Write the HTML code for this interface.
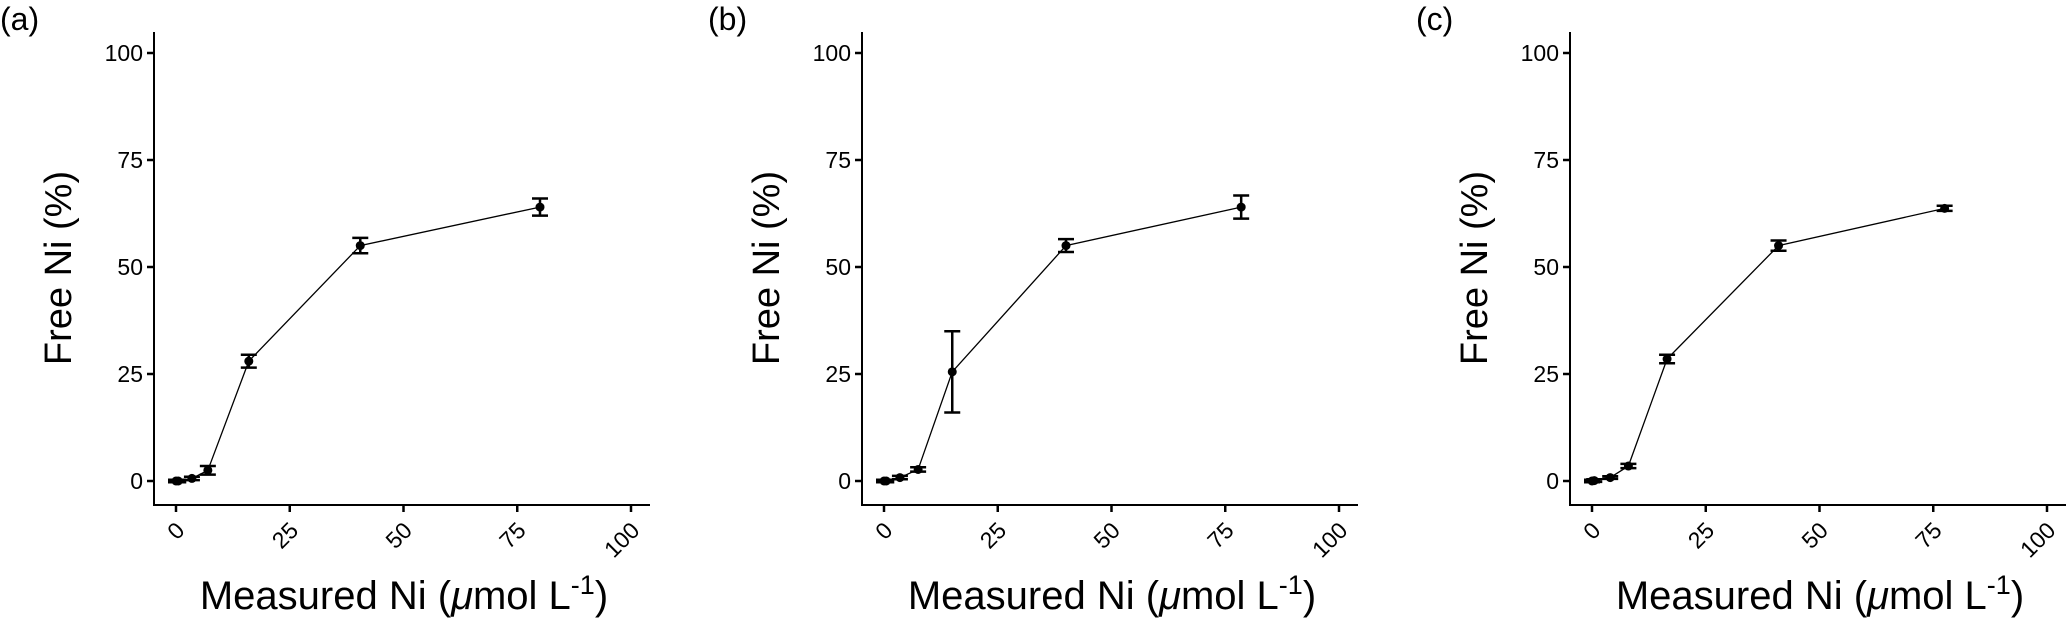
<!DOCTYPE html>
<html><head><meta charset="utf-8"><style>
html,body{margin:0;padding:0;background:#fff;}
svg{display:block;font-family:"Liberation Sans",Arial,sans-serif;}
</style></head><body>
<svg id="fig" width="2067" height="618" viewBox="0 0 2067 618" xmlns="http://www.w3.org/2000/svg"></svg>
<script>
const panelLabels = ["(a)", "(b)", "(c)"];
const xTicks = [0, 25, 50, 75, 100];
const yTicks = [0, 25, 50, 75, 100];
const xA = [0, 0.5, 3.5, 7, 16, 40.5, 80];
const yA = [0, 0, 0.6, 2.5, 28, 55, 64];
const eA = [0.3, 0.3, 0.4, 1.0, 1.5, 1.8, 2.0];
const xB = [0, 0.5, 3.5, 7.5, 15, 40, 78.5];
const yB = [0, 0, 0.8, 2.7, 25.5, 55, 64];
const eB = [0.3, 0.3, 0.4, 0.5, 9.5, 1.5, 2.7];
const xC = [0, 0.5, 4, 8, 16.5, 41, 77.5];
const yC = [0, 0.1, 0.8, 3.5, 28.5, 55, 63.7];
const eC = [0.3, 0.3, 0.3, 0.5, 1.0, 1.2, 0.6];
const xs = [xA, xB, xC], ys = [yA, yB, yC], es = [eA, eB, eC];

const NS = "http://www.w3.org/2000/svg";
const svg = document.getElementById("fig");
function mk(tag, attrs, parent) {
  const el = document.createElementNS(NS, tag);
  for (const k in attrs) el.setAttribute(k, attrs[k]);
  (parent || svg).appendChild(el);
  return el;
}
const axisXs = [154, 862, 1570];
for (let p = 0; p < 3; p++) {
  const ax = axisXs[p];
  const g = mk("g", {});
  
  
  const sx = v => ax + 22 + v * 4.55;
  const sy = v => 481 - v * 4.28;
  const lab = mk("text", {x: ax - 154, y: 30, "font-size": 32}, g);
  lab.textContent = panelLabels[p];
  
  
  const yaxis = mk("line", {x1: ax, y1: 32, x2: ax, y2: 506, stroke: "#000", "stroke-width": 2}, g);
  
  
  const xaxis = mk("line", {x1: ax - 1, y1: 505, x2: ax + 496, y2: 505, stroke: "#000", "stroke-width": 2}, g);
  
  
  yTicks.forEach(t => {
    mk("line", {x1: ax - 7, y1: sy(t), x2: ax, y2: sy(t), stroke: "#000", "stroke-width": 2.5}, g);
    const tl = mk("text", {x: ax - 11, y: sy(t) + 8, "font-size": 23, "text-anchor": "end"}, g);
    tl.textContent = t;
    
    
  });
  xTicks.forEach(t => {
    const lx = sx(t) - 2, ly = 520;
    mk("line", {x1: sx(t), y1: 505, x2: sx(t), y2: 512, stroke: "#000", "stroke-width": 2.5}, g);
    const tl = mk("text", {x: lx, y: ly, "font-size": 23, "text-anchor": "end",
      transform: `rotate(-45 ${lx} ${ly})`, "dominant-baseline": "hanging"}, g);
    tl.textContent = t;
    
    
  });
  const cxT = ax - 96;
  const yt = mk("text", {x: cxT, y: 268 + 13, "font-size": 38, "text-anchor": "middle",
    transform: `rotate(-90 ${cxT} 268)`}, g);
  yt.textContent = "Free Ni (%)";
  
  
  const xt = mk("text", {x: ax + 250, y: 609, "font-size": 40, "text-anchor": "middle"}, g);
  xt.innerHTML = 'Measured Ni (<tspan font-style="italic">μ</tspan>mol L<tspan dy="-15" font-size="27">-1</tspan><tspan dy="15">)</tspan>';
  
  
  const X = xs[p], Y = ys[p], E = es[p];
  const line = mk("polyline", {points: X.map((v, i) => sx(v) + "," + sy(Y[i])).join(" "),
    fill: "none", stroke: "#000", "stroke-width": 1.3}, g);
  
  
  X.forEach((v, i) => {
    const cx = sx(v), top = sy(Y[i] + E[i]), bot = sy(Y[i] - E[i]);
    const eb = mk("path", {d: `M${cx - 8},${top}H${cx + 8}M${cx},${top}V${bot}M${cx - 8},${bot}H${cx + 8}`,
      stroke: "#000", "stroke-width": 2.5, fill: "none"}, g);
    
    
    const pt = mk("circle", {cx: cx, cy: sy(Y[i]), r: 4.5, fill: "#000"}, g);
    
    
  });
}
</script>
</body></html>
